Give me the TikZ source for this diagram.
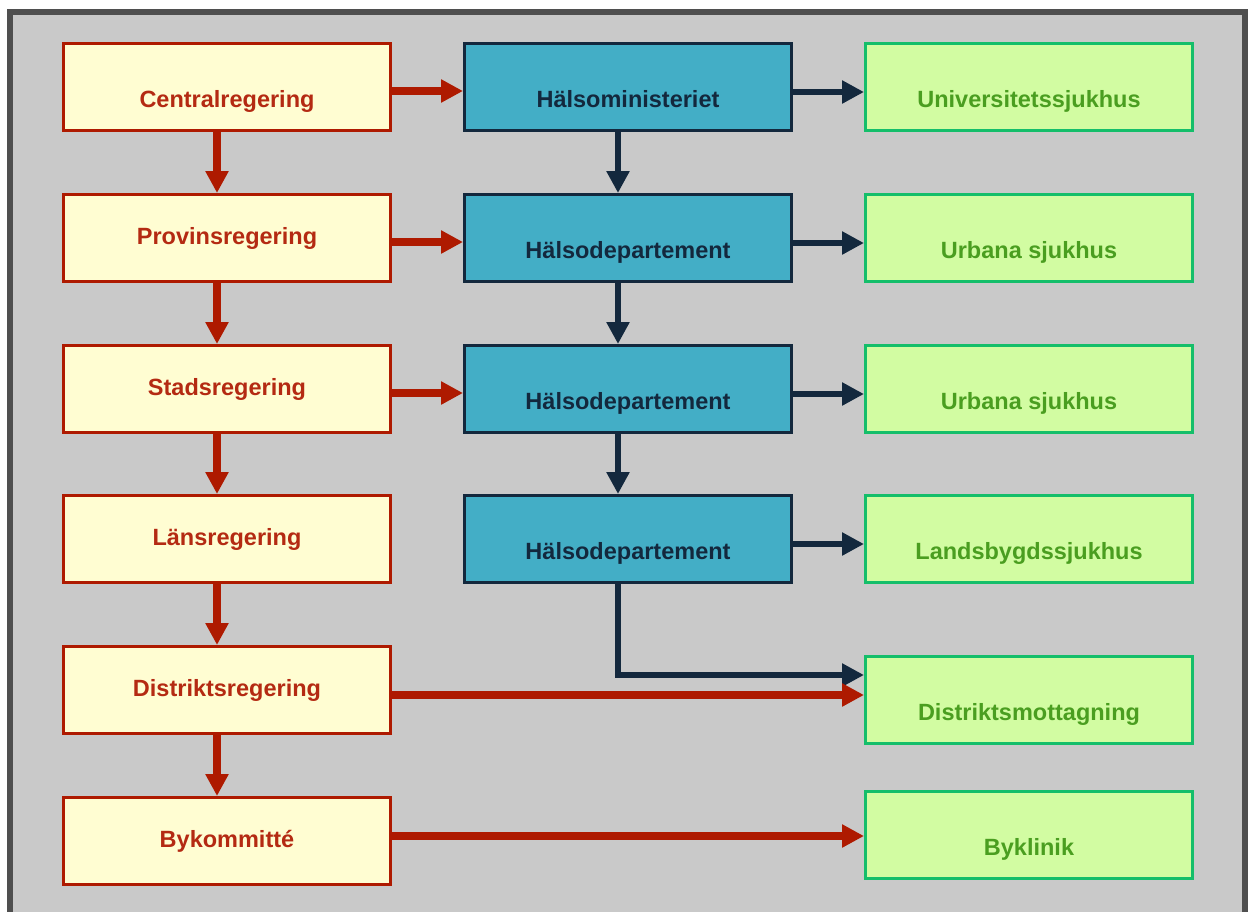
\documentclass[tikz,border=0pt]{standalone}
\usepackage{fontspec}
\setmainfont{Liberation Sans}
\usetikzlibrary{arrows.meta}
\definecolor{bgc}{HTML}{C9C9C9}
\definecolor{framec}{HTML}{4F4F4F}
\definecolor{redl}{HTML}{AE1A00}
\definecolor{redt}{HTML}{B42A12}
\definecolor{yelf}{HTML}{FFFDD2}
\definecolor{tealf}{HTML}{43AEC6}
\definecolor{navy}{HTML}{13283D}
\definecolor{grnf}{HTML}{D2FCA2}
\definecolor{grnl}{HTML}{14BE6A}
\definecolor{grnt}{HTML}{4A9E20}
\tikzset{
  box/.style={rectangle, minimum width=327pt, minimum height=87pt, line width=3pt, inner sep=0pt,
    font=\fontsize{23.5}{28}\selectfont\bfseries},
  govbox/.style={box, draw=redl, fill=yelf, text=redt},
  depbox/.style={box, draw=navy, fill=tealf, text=navy},
  hospbox/.style={box, draw=grnl, fill=grnf, text=grnt},
  low/.style={text height=40pt, text depth=0pt},
  redarrow/.style={draw=redl, line width=7.5pt, -{Triangle[length=22pt,width=22pt]}},
  navyarrow/.style={draw=navy, line width=6.5pt, -{Triangle[length=22pt,width=22pt]}},
}
\begin{document}
\begin{tikzpicture}[x=1pt,y=-1pt]
\useasboundingbox (0,0) rectangle (1248,911);
\draw[line width=6pt, draw=framec, fill=bgc] (10,11.5) rectangle (1245,940);

% left column
\node[govbox, low] (cr) at (227,87) {Centralregering};
\node[govbox] (pr) at (227,238) {Provinsregering};
\node[govbox] (sr) at (227,389) {Stadsregering};
\node[govbox] (lr) at (227,539) {Länsregering};
\node[govbox] (dr) at (227,690) {Distriktsregering};
\node[govbox] (bk) at (227,841) {Bykommitté};

% middle column
\node[depbox, low] (hm) at (628,87) {Hälsoministeriet};
\node[depbox, low] (hd1) at (628,238) {Hälsodepartement};
\node[depbox, low] (hd2) at (628,389) {Hälsodepartement};
\node[depbox, low] (hd3) at (628,539) {Hälsodepartement};

% right column
\node[hospbox, low] (us) at (1029,87) {Universitetssjukhus};
\node[hospbox, low] (ub1) at (1029,238) {Urbana sjukhus};
\node[hospbox, low] (ub2) at (1029,389) {Urbana sjukhus};
\node[hospbox, low] (ls) at (1029,539) {Landsbygdssjukhus};
\node[hospbox, low] (dm) at (1029,700) {Distriktsmottagning};
\node[hospbox, low] (bc) at (1029,835) {Byklinik};

% left vertical arrows
\foreach \a/\b in {cr/pr, pr/sr, sr/lr, lr/dr, dr/bk}
  \draw[redarrow] ([xshift=-10pt]\a.south) -- ([xshift=-10pt]\b.north);

% left to middle
\foreach \a/\b in {cr/hm, pr/hd1, sr/hd2}
  \draw[redarrow] ([yshift=-4pt]\a.east) -- ([yshift=-4pt]\b.west);

% middle vertical arrows
\foreach \a/\b in {hm/hd1, hd1/hd2, hd2/hd3}
  \draw[navyarrow] ([xshift=-10pt]\a.south) -- ([xshift=-10pt]\b.north);

% middle to right
\foreach \a/\b in {hm/us, hd1/ub1, hd2/ub2, hd3/ls}
  \draw[navyarrow] ([yshift=-5pt]\a.east) -- ([yshift=-5pt]\b.west);

\draw[navyarrow] ([xshift=-10pt]hd3.south) |- ([yshift=25pt]dm.west);
\draw[redarrow] ([yshift=-5pt]dr.east) -- ([yshift=-5pt]dr.east -| dm.west);
\draw[redarrow] ([yshift=5pt]bk.east) -- ([yshift=5pt]bk.east -| bc.west);
\end{tikzpicture}
\end{document}
